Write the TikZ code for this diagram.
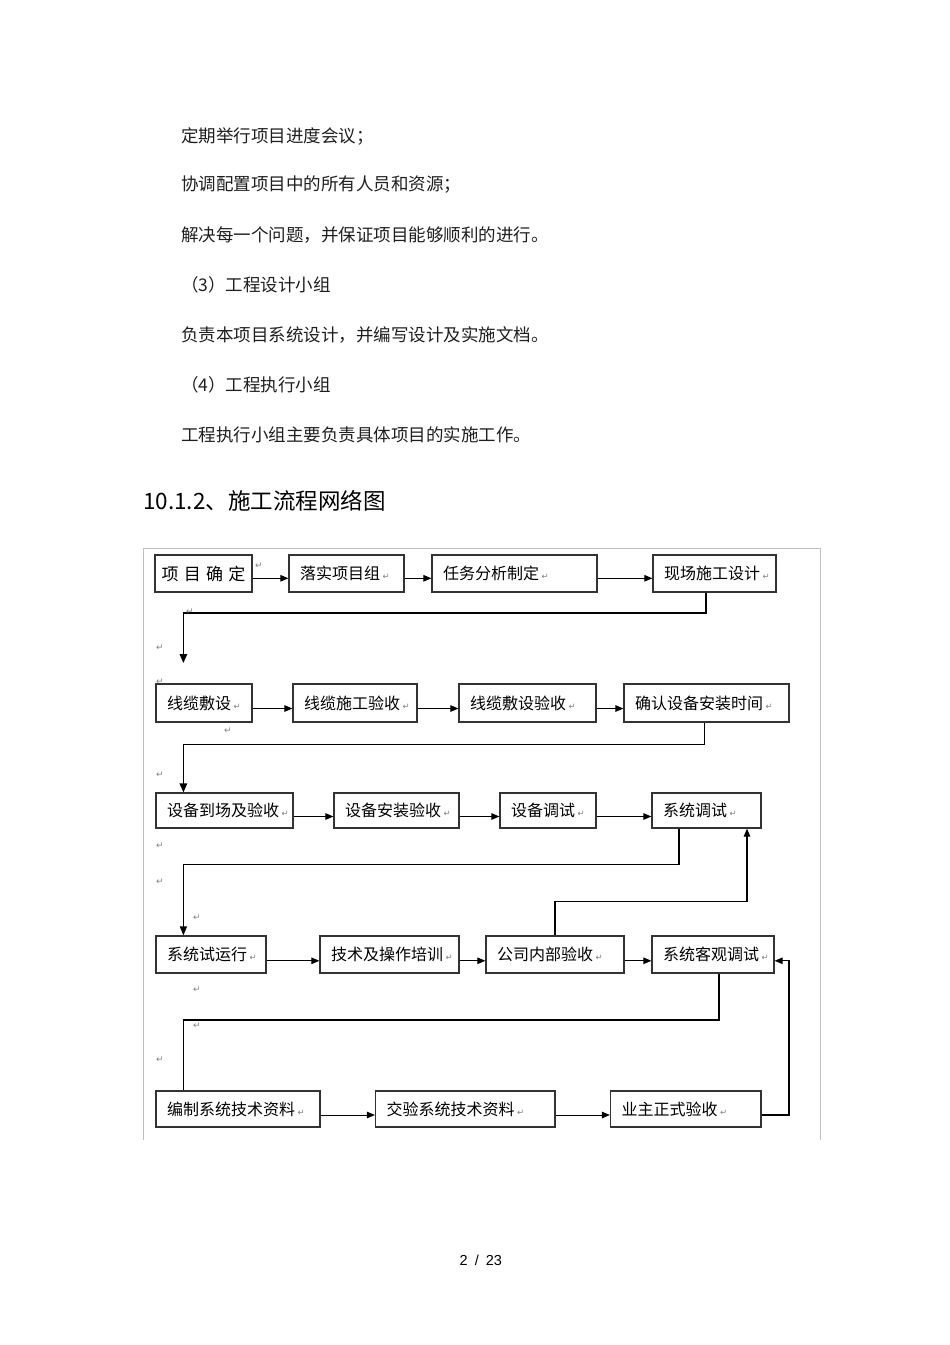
\documentclass[tikz,border=0pt]{standalone}
\usepackage{fontspec}
\setmainfont{Noto Sans CJK SC}
\newfontfamily\dvfont{DejaVu Sans}
\newfontfamily\lsfont{Liberation Sans}
\usetikzlibrary{arrows.meta}
\newcommand\retm{\rlap{\,{\dvfont\fontsize{8.5}{8.5}\selectfont\textcolor{black!50}{↵}}}}
\begin{document}
\begin{tikzpicture}[x=1pt,y=-1pt,
  box/.style={draw=black!80, line width=1.2pt, fill=white, minimum height=37, inner xsep=11, inner ysep=0, align=left, font=\fontsize{16}{18}\selectfont, text=black},
  arr/.style={line width=1pt, -{Triangle[length=8pt,width=6.5pt]}},
  conn/.style={line width=1.5pt},
  body/.style={anchor=west, inner sep=0, font=\fontsize{17.5}{20}\selectfont, text=black!88},
  rm/.style={inner sep=0, font=\dvfont\fontsize{9}{9}\selectfont, text=black!50},
  frame/.style={draw=black!25, line width=0.8pt}]
\fill[white] (0,0) rectangle (950,1345);
\useasboundingbox (0,0) rectangle (950,1345);

% body text
\node[body] (t1) at (181,136) {定期举行项目进度会议；};
\node[body] (t2) at (181,185) {协调配置项目中的所有人员和资源；};
\node[body] (t3) at (181,235) {解决每一个问题，并保证项目能够顺利的进行。};
\node[body] (t4) at (181,285) {（3）工程设计小组};
\node[body] (t5) at (181,335) {负责本项目系统设计，并编写设计及实施文档。};
\node[body] (t6) at (181,385) {（4）工程执行小组};
\node[body] (t7) at (181,435) {工程执行小组主要负责具体项目的实施工作。};
\node[anchor=west, inner sep=0, font=\fontsize{22.5}{25}\selectfont] (h) at (143,501) {10.1.2、施工流程网络图};
\node[anchor=west, inner sep=0, font=\lsfont\fontsize{14.5}{16}\selectfont] (pg) at (459.5,1260) {2\hspace{7pt}/\hspace{7pt}23};

% frame
\draw[frame] (143,1140) -- (143,548) -- (820,548) -- (820,1140);

% row 1
\node[box, minimum height=37, inner xsep=6.7, text width=83.6, font=\fontsize{17}{19}\selectfont] (b1) at (203.5,573.5) {项\hspace{5.2pt}目\hspace{5.2pt}确\hspace{5.2pt}定};
\node[box, text width=93] (b2) at (346.5,573.5) {落实项目组\retm};
\node[box, text width=143] (b3) at (514.5,573.5) {任务分析制定\retm};
\node[box, text width=101] (b4) at (714.5,573.5) {现场施工设计\retm};
% row 2
\node[box, minimum height=38, text width=74] (c1) at (204,703) {线缆敷设\retm};
\node[box, minimum height=38, text width=102] (c2) at (355,703) {线缆施工验收\retm};
\node[box, minimum height=38, text width=115] (c3) at (527.5,703) {线缆敷设验收\retm};
\node[box, minimum height=38, text width=143] (c4) at (706.5,703) {确认设备安装时间\retm};
% row 3
\node[box, minimum height=35, text width=115] (d1) at (224.5,810.5) {设备到场及验收\retm};
\node[box, minimum height=35, text width=103] (d2) at (396.5,810.5) {设备安装验收\retm};
\node[box, minimum height=35, text width=74] (d3) at (548,810.5) {设备调试\retm};
\node[box, minimum height=35, text width=87] (d4) at (706.5,810.5) {系统调试\retm};
% row 4
\node[box, minimum height=37, text width=88] (e1) at (211,954.5) {系统试运行\retm};
\node[box, minimum height=37, text width=117] (e2) at (389.5,954.5) {技术及操作培训\retm};
\node[box, minimum height=37, text width=116] (e3) at (555,954.5) {公司内部验收\retm};
\node[box, minimum height=37, text width=100] (e4) at (713,954.5) {系统客观调试\retm};
% row 5
\node[box, minimum height=36, text width=142] (f1) at (238,1109) {编制系统技术资料\retm};
\node[box, minimum height=36, text width=157.5] (f2) at (465.25,1109) {交验系统技术资料\retm};
\node[box, minimum height=36, text width=128.5] (f3) at (685.75,1109) {业主正式验收\retm};

% horizontal arrows
\draw[arr] ([yshift=-4.8pt]b1.east) -- ([yshift=-4.8pt]b2.west);
\draw[arr] ([yshift=-4.8pt]b2.east) -- ([yshift=-4.8pt]b3.west);
\draw[arr] ([yshift=-4.8pt]b3.east) -- ([yshift=-4.8pt]b4.west);
\draw[arr] ([yshift=-5.5pt]c1.east) -- ([yshift=-5.5pt]c2.west);
\draw[arr] ([yshift=-5.5pt]c2.east) -- ([yshift=-5.5pt]c3.west);
\draw[arr] ([yshift=-5.5pt]c3.east) -- ([yshift=-5.5pt]c4.west);
\draw[arr] ([yshift=-6pt]d1.east) -- ([yshift=-6pt]d2.west);
\draw[arr] ([yshift=-6pt]d2.east) -- ([yshift=-6pt]d3.west);
\draw[arr] ([yshift=-6pt]d3.east) -- ([yshift=-6pt]d4.west);
\draw[arr] ([yshift=-6.3pt]e1.east) -- ([yshift=-6.3pt]e2.west);
\draw[arr] ([yshift=-6.3pt]e2.east) -- ([yshift=-6.3pt]e3.west);
\draw[arr] ([yshift=-6.3pt]e3.east) -- ([yshift=-6.3pt]e4.west);
\draw[arr] ([yshift=-6pt]f1.east) -- ([yshift=-6pt]f2.west);
\draw[arr] ([yshift=-6pt]f2.east) -- ([yshift=-6pt]f3.west);

% bend coordinates
\coordinate (k1) at (183.4,613);
\coordinate (t1e) at (183.4,663);
\coordinate (k2) at (183.4,744.7);
\coordinate (k3) at (183.4,864.3);
\coordinate (k4) at (747,901.5);
\coordinate (k5) at (183.4,1020);
\coordinate (k6) at (789,960.8);

% connectors between rows
\draw[conn, -{Triangle[length=9pt,width=7.5pt]}] ([xshift=-8.5pt]b4.south) |- (k1) -- (t1e);
\draw[conn, -{Triangle[length=9pt,width=7.5pt]}] ([xshift=-1.9pt]c4.south) |- (k2) -- (k2 |- d1.north);
\draw[line width=1.3pt, -{Triangle[length=9pt,width=7pt]}] ([xshift=-27.5pt]d4.south) |- (k3) -- (k3 |- e1.north);
\draw[line width=1.1pt, -{Triangle[length=8pt,width=6.5pt]}] (e3.north) |- (k4) -- (k4 |- d4.south);
\draw[line width=1.2pt] ([xshift=6pt]e4.south) |- (k5) -- (k5 |- f1.north);
\draw[line width=1.1pt, -{Triangle[length=8pt,width=6.5pt]}] ([yshift=-6pt]f3.east) -| (k6) -- (k6 -| e4.east);

% paragraph marks
\node[rm] (r1) at (259,566) {↵};
\node[rm] (r2) at (190,612) {↵};
\node[rm] (r3) at (160,648) {↵};
\node[rm] (r4) at (160,682) {↵};
\node[rm] (r5) at (228,731) {↵};
\node[rm] (r6) at (160,775) {↵};
\node[rm] (r7) at (160,846) {↵};
\node[rm] (r8) at (160,882) {↵};
\node[rm] (r9) at (197,918) {↵};
\node[rm] (r10) at (197,990) {↵};
\node[rm] (r11) at (197,1026) {↵};
\node[rm] (r12) at (160,1060) {↵};
\end{tikzpicture}
\end{document}
